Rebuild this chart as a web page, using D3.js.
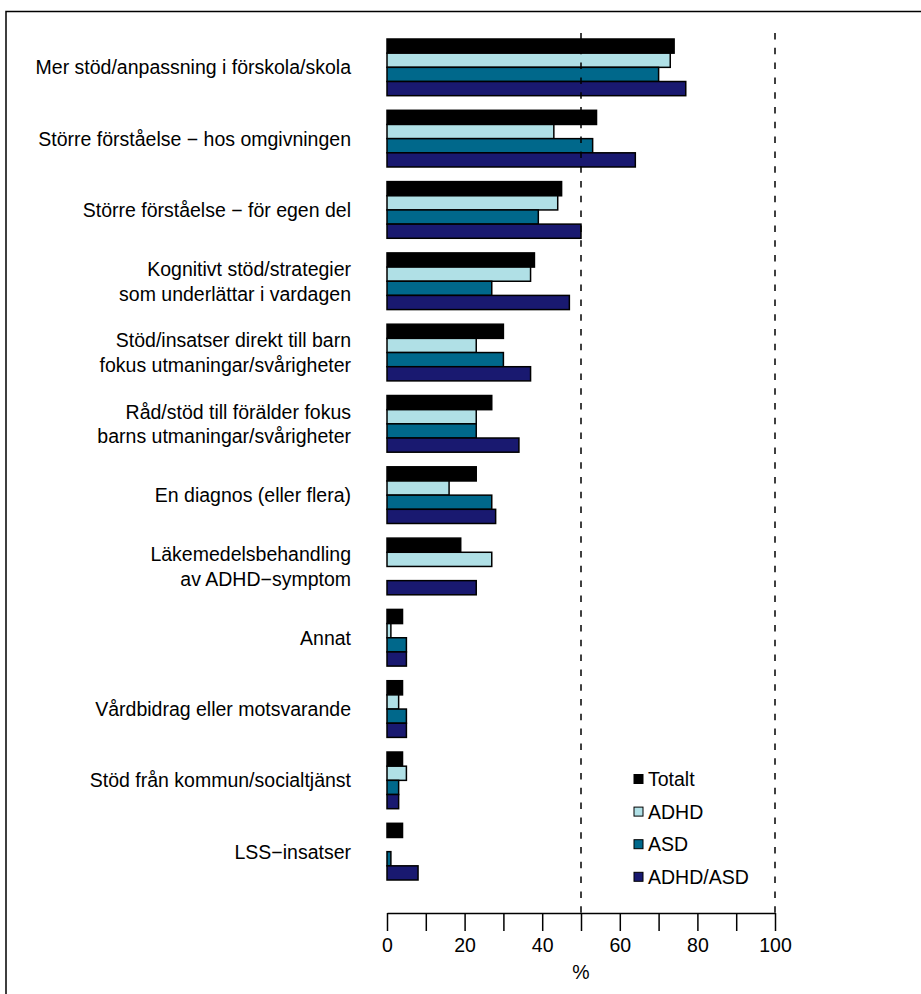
<!DOCTYPE html>
<html>
<head>
<meta charset="utf-8">
<script src="https://cdn.jsdelivr.net/npm/d3@7"></script>
<style>
  body { margin: 0; background: #fff; }
  svg text { font-family: "Liberation Sans", Arial, sans-serif; fill: #000; }
</style>
</head>
<body>
<div id="chart"></div>
<script>
const categories = [
  "Mer stöd/anpassning i förskola/skola",
  "Större förståelse − hos omgivningen",
  "Större förståelse − för egen del",
  "Kognitivt stöd/strategier\nsom underlättar i vardagen",
  "Stöd/insatser direkt till barn\nfokus utmaningar/svårigheter",
  "Råd/stöd till förälder fokus\nbarns utmaningar/svårigheter",
  "En diagnos (eller flera)",
  "Läkemedelsbehandling\nav ADHD−symptom",
  "Annat",
  "Vårdbidrag eller motsvarande",
  "Stöd från kommun/socialtjänst",
  "LSS−insatser"
];
const seriesNames = ["Totalt", "ADHD", "ASD", "ADHD/ASD"];
const totalt  = [74, 54, 45, 38, 30, 27, 23, 19, 4, 4, 4, 4];
const adhd    = [73, 43, 44, 37, 23, 23, 16, 27, 1, 3, 5, 0];
const asd     = [70, 53, 39, 27, 30, 23, 27, 0, 5, 5, 3, 1];
const adhdAsd = [77, 64, 50, 47, 37, 34, 28, 23, 5, 5, 3, 8];
const refLines = [50, 100];
const tickValues = [0, 10, 20, 30, 40, 50, 60, 70, 80, 90, 100];

const colors = ["#000000", "#B0E0E6", "#00688B", "#191970"];
const seriesValues = [totalt, adhd, asd, adhdAsd];

const W = 921, H = 994;
const fs = "19.5px";
const svg = d3.select("#chart")
  .append("svg")
    .attr("width", W)
    .attr("height", H);

// frame (cut off at right and bottom like the original)
svg.append("path")
  .attr("d", `M6,${H + 5} V11.5 H${W + 5}`)
  .attr("fill", "none")
  .attr("stroke", "#000")
  .attr("stroke-width", 1.5);

const x = d3.scaleLinear().domain([0, 100]).range([387, 775]);

const y = d3.scaleBand()
  .domain(categories)
  .range([39, 880])
  .paddingInner(0.205)
  .paddingOuter(0);

const ySub = d3.scaleBand()
  .domain(seriesNames)
  .range([0, y.bandwidth()]);

// bars
const groups = svg.selectAll("g.grp")
  .data(categories)
  .enter()
  .append("g")
    .attr("class", "grp")
    .attr("transform", d => `translate(0,${y(d)})`);

groups.selectAll("rect")
  .data((d, i) => seriesNames.map((s, j) => ({ s, v: seriesValues[j][i], c: colors[j] })))
  .enter()
  .append("rect")
    .attr("x", x(0))
    .attr("y", d => ySub(d.s))
    .attr("width", d => x(d.v) - x(0))
    .attr("height", ySub.bandwidth())
    .attr("fill", d => d.c)
    .attr("stroke", "#000")
    .attr("stroke-width", 1.5);

// category labels
const lineH = 24.5;
groups.append("text")
  .attr("text-anchor", "end")
  .attr("font-size", fs)
  .each(function (d) {
    const lines = d.split("\n");
    const t = d3.select(this);
    const cy = y.bandwidth() / 2;
    lines.forEach((ln, k) => {
      t.append("tspan")
        .attr("x", 351)
        .attr("y", cy + (k - (lines.length - 1) / 2) * lineH)
        .attr("dy", "0.36em")
        .text(ln);
    });
  });

// dashed reference lines
svg.selectAll("line.ref")
  .data(refLines)
  .enter()
  .append("line")
    .attr("class", "ref")
    .attr("x1", d => x(d))
    .attr("x2", d => x(d))
    .attr("y1", 33)
    .attr("y2", 913)
    .attr("stroke", "#000")
    .attr("stroke-width", 1.5)
    .attr("stroke-dasharray", "6.5,8.3");

// x axis
const axis = svg.append("g")
  .attr("transform", "translate(0,913)")
  .call(d3.axisBottom(x)
    .tickValues(tickValues)
    .tickSize(18)
    .tickSizeOuter(0)
    .tickPadding(7)
    .tickFormat(d => d % 20 === 0 ? d : ""));
axis.select(".domain").attr("stroke-width", 1.5);
axis.selectAll(".tick line").attr("stroke-width", 1.5);
axis.selectAll(".tick text")
  .attr("font-size", fs)
  .attr("font-family", "Liberation Sans, Arial, sans-serif");

svg.append("text")
  .attr("x", x(50))
  .attr("y", 979)
  .attr("text-anchor", "middle")
  .attr("font-size", fs)
  .text("%");

// legend
const legend = svg.append("g").attr("transform", "translate(634,779)");
const lg = legend.selectAll("g")
  .data(seriesNames)
  .enter()
  .append("g")
    .attr("transform", (d, i) => `translate(0,${i * 32.6})`);
lg.append("rect")
  .attr("x", 0)
  .attr("y", -4.5)
  .attr("width", 9)
  .attr("height", 9)
  .attr("fill", (d, i) => colors[i])
  .attr("stroke", "#000")
  .attr("stroke-width", 1);
lg.append("text")
  .attr("x", 14)
  .attr("y", 0)
  .attr("dy", "0.36em")
  .attr("font-size", fs)
  .text(d => d);
</script>
</body>
</html>
